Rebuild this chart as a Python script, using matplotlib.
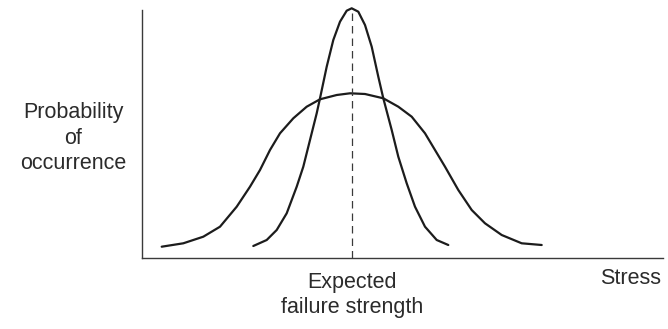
import matplotlib
matplotlib.use('Agg')
import matplotlib.pyplot as plt

# Broad distribution (wide scatter in failure stress)
wide_x = [19.7, 41.3, 61.3, 78, 94.7, 108, 118, 128, 138, 151.3, 164.7, 178, 194.7,
          208, 223, 241.3, 256.3, 269.7, 283, 293, 303, 316.3, 329.7, 343, 359.7, 379.7, 399.7]
wide_y = [11.3, 14.7, 21.3, 31.3, 51.3, 71.3, 88, 108, 124.7, 139.7, 151.3, 158.7, 163,
          164.7, 164, 159.7, 151.3, 141.3, 124.7, 108, 91.3, 68, 48, 34.7, 23, 14.7, 13]

# Narrow distribution (tight scatter)
narrow_x = [111.3, 124.7, 134.7, 144.7, 154.7, 161.3, 168, 174.7, 178, 184.7, 191.3, 198,
            204.7, 209.7, 216.3, 223, 229.7, 236.3, 241.3, 249.7, 256.3, 264.7, 273, 283,
            294.7, 306.3]
narrow_y = [12, 18, 28, 44.7, 71.3, 91.3, 118, 144.7, 159.7, 191.3, 218, 236.3,
            247.3, 249.7, 246.3, 233, 211.3, 181.3, 159.7, 128, 101.3, 74.7, 51.3, 31.3,
            18, 13]

expected_strength = 210
x_max = 521
y_max = 248

text_font = {'family': ['Liberation Sans', 'DejaVu Sans'], 'size': 15.5, 'color': '#2b2b2b'}

fig = plt.figure(figsize=(6.68, 3.29), dpi=100)
ax = fig.add_axes([142 / 668, 71 / 329, x_max / 668, y_max / 329])

curve = dict(color='#1c1c1c', lw=1.6, solid_joinstyle='round', solid_capstyle='round', clip_on=False)
ax.plot(wide_x, wide_y, **curve)
ax.plot(narrow_x, narrow_y, **curve)
ax.plot([expected_strength, expected_strength], [0, max(narrow_y)], color='#3a3a3a',
        lw=0.9, dashes=(6, 4), clip_on=False)

ax.set_xlim(0, x_max)
ax.set_ylim(0, y_max)
ax.spines['right'].set_visible(False)
ax.spines['top'].set_visible(False)
ax.spines['left'].set_color('#3a3a3a')
ax.spines['bottom'].set_color('#3a3a3a')
ax.spines['left'].set_linewidth(1.0)
ax.spines['bottom'].set_linewidth(1.0)
ax.set_xticks([])
ax.set_yticks([])

ax.text(-69, 120, 'Probability\nof\noccurrence', ha='center', va='center',
        linespacing=1.3, fontdict=text_font)
ax.text(expected_strength, -37, 'Expected\nfailure strength', ha='center', va='center',
        linespacing=1.25, fontdict=text_font)
ax.text(489, -21, 'Stress', ha='center', va='center', fontdict=text_font)

fig.savefig('out.png', dpi=100)
